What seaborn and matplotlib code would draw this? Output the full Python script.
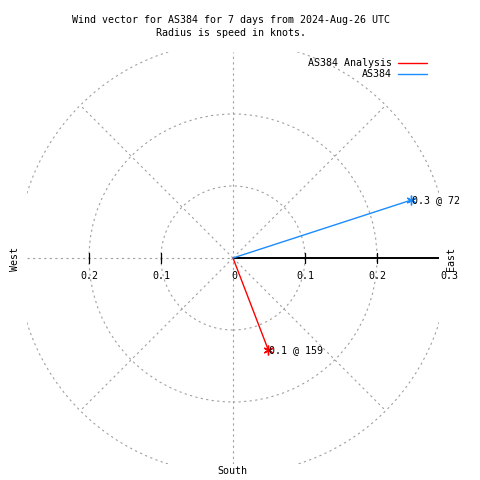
import numpy as np
import pandas as pd
import matplotlib
matplotlib.use("Agg")
import matplotlib.pyplot as plt
import matplotlib.patches as mpatches
from matplotlib.lines import Line2D
import seaborn as sns

# ── Data ──────────────────────────────────────────────
series = ["AS384 Analysis", "AS384"]
speed_kt = [0.137, 0.26]          # radius = speed in knots
direction_deg = [159, 72]         # clockwise from north
colors = ["#ff0000", "#1a8cff"]
r_ticks = [0.1, 0.2, 0.3]
title = "Wind vector for AS384 for 7 days from 2024-Aug-26 UTC\nRadius is speed in knots."

# ── Setup ──────────────────────────────────────────────
sns.set_style("white")
plt.rcParams["font.family"] = ["DejaVu Sans Mono"]
plt.rcParams["text.color"] = "black"
FS = 7.2
GRID = "#a0a0a0"
DASH = (0, (2, 3))
LIM = 206 / 720   # visible radius of the plot square

fig = plt.figure(figsize=(4.8, 4.8), dpi=100)
ax = fig.add_axes([27 / 480, 16 / 480, 412 / 480, 412 / 480])
ax.set_xlim(-LIM, LIM)
ax.set_ylim(-LIM, LIM)
ax.set_aspect("equal")
ax.axis("off")

# polar grid: circles + radial lines
for r in r_ticks:
    ax.add_patch(mpatches.Circle((0, 0), r, fill=False, ec=GRID, lw=0.8, ls=DASH))
ax.plot([0, 0], [-LIM, LIM], color=GRID, lw=0.8, ls=DASH)
ax.plot([-LIM, 0], [0, 0], color=GRID, lw=0.8, ls=DASH)
rmax = r_ticks[-1]
for a in [45, 135, 225, 315]:
    t = np.deg2rad(a)
    ax.plot([0, rmax * np.sin(t)], [0, rmax * np.cos(t)], color=GRID, lw=0.8, ls=DASH)

# radial axis (east) with ticks
ax.plot([0, LIM], [0, 0], color="black", lw=1.4, solid_capstyle="butt")
tick_h = 5 / 720
for r in r_ticks[:-1]:
    for sgn in (1, -1):
        ax.plot([sgn * r, sgn * r], [-tick_h, tick_h], color="black", lw=0.9)

ly = -18 / 720
for r in r_ticks:
    ax.text(r, ly, f"{r:g}", ha="center", va="center", fontsize=FS, clip_on=False)
for r in r_ticks[:-1]:
    ax.text(-r, ly, f"{r:g}", ha="center", va="center", fontsize=FS, clip_on=False)
ax.text(1.5 / 720, ly, "0", ha="center", va="center", fontsize=FS, clip_on=False)

# wind vectors
rows = []
for name, s, d in zip(series, speed_kt, direction_deg):
    t = np.deg2rad(d)
    rows.append({"series": name, "step": 0, "x": 0.0, "y": 0.0})
    rows.append({"series": name, "step": 1, "x": s * np.sin(t), "y": s * np.cos(t)})
vec = pd.DataFrame(rows)
sns.lineplot(data=vec, x="x", y="y", hue="series", palette=dict(zip(series, colors)),
             units="series", estimator=None, sort=False, lw=1.0, legend=False, ax=ax)
tips = vec[vec["step"] == 1]
for (_, row), c, s, d in zip(tips.iterrows(), colors, speed_kt, direction_deg):
    ax.plot(row["x"], row["y"], marker=(6, 2, 0), ms=7, mew=1.0, color=c)
    ax.text(row["x"] + 1 / 720, row["y"], f"{s:.1f} @ {d}", ha="left", va="center",
            fontsize=FS, clip_on=False)

# compass labels
fig.text(15 / 480, 1 - 259 / 480, "West", rotation=90, ha="center", va="center", fontsize=FS)
fig.text(451 / 480, 1 - 259 / 480, "East", rotation=90, ha="center", va="center", fontsize=FS)
fig.text(232 / 480, 1 - 471 / 480, "South", ha="center", va="center", fontsize=FS)

fig.text(231 / 480, 1 - 26.5 / 480, title, ha="center", va="center", fontsize=FS, linespacing=1.45)

handles = [Line2D([], [], color=c, lw=1.0) for c in colors]
ax.legend(handles, series, loc="upper right", bbox_to_anchor=(427 / 480, 1 - 58.5 / 480),
          bbox_transform=fig.transFigure, markerfirst=False, frameon=False,
          handlelength=2.9, handletextpad=0.6, labelspacing=0.08, borderpad=0,
          borderaxespad=0, prop={"size": FS})

plt.savefig("out.png", dpi=100)
plt.close()
